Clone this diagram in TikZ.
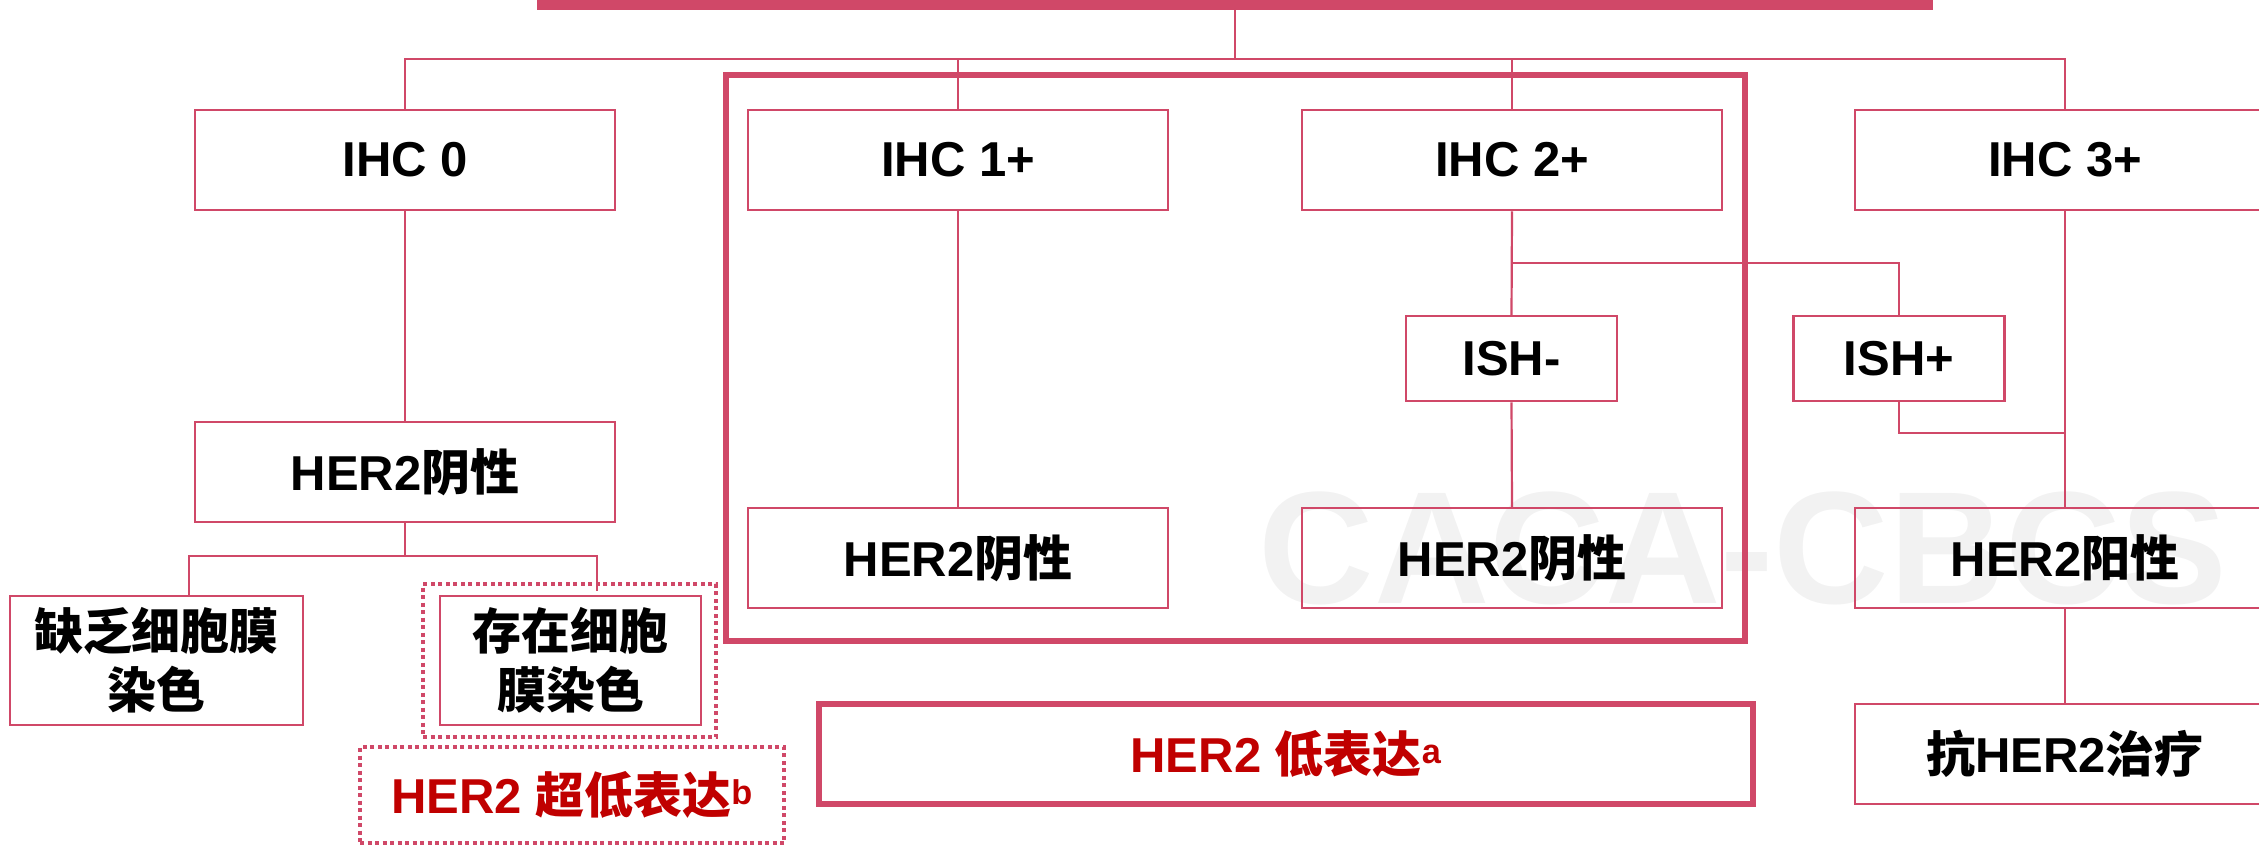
\documentclass[tikz,border=0pt]{standalone}
\usepackage{fontspec}
\setmainfont{Liberation Sans}
\newfontfamily\cjk{Noto Sans CJK SC}
\definecolor{pinkc}{RGB}{208,72,104}
\definecolor{redt}{RGB}{192,0,0}
\definecolor{wmgray}{RGB}{242,242,242}
\newcommand{\zhtxt}[1]{{\cjk\bfseries #1}}
\begin{document}
\begin{tikzpicture}[x=1pt,y=-1pt,
  box/.style={draw=pinkc,line width=2.5pt,inner sep=0pt,align=center,
    font=\fontsize{49}{59}\selectfont\bfseries,text=black,
    minimum width=420pt,minimum height=100pt},
  ishbox/.style={box,minimum width=211pt,minimum height=85pt},
  conn/.style={draw=pinkc,line width=2.2pt},
  thickbox/.style={draw=pinkc,line width=5.5pt,inner sep=0pt},
  dotbox/.style={draw=pinkc,line width=4pt,dash pattern=on 4pt off 3.5pt,inner sep=0pt},
  redlabel/.style={text=redt,font=\fontsize{49}{59}\selectfont\bfseries,inner sep=0pt}]
\clip (0,0) rectangle (2259,846);
\useasboundingbox (0,0) rectangle (2259,846);

% watermark
\node[text=wmgray,font=\fontsize{160}{160}\selectfont\bfseries] (wm) at (1743,548) {CACA-CBCS};

% top bar
\node[fill=pinkc,draw=none,inner sep=0pt,minimum width=1396pt,minimum height=14pt] (topbar) at (1235,3) {};

% group frames
\node[thickbox,minimum width=1019pt,minimum height=566pt] (grp) at (1235.5,358) {};
\node[thickbox,minimum width=934pt,minimum height=100pt,redlabel] (low) at (1286,754)
  {HER2 \zhtxt{低表达}\textsuperscript{a}};
\node[dotbox,minimum width=293pt,minimum height=153pt] (dotin) at (569.5,660.5) {};
\node[dotbox,minimum width=424pt,minimum height=96pt,redlabel] (ultra) at (572,795)
  {HER2 \zhtxt{超低表达}\textsuperscript{b}};

% IHC row
\node[box] (ihc0) at (405,160) {IHC 0};
\node[box] (ihc1) at (958,160) {IHC 1+};
\node[box] (ihc2) at (1512,160) {IHC 2+};
\node[box] (ihc3) at (2065,160) {IHC 3+};

% ISH row
\node[ishbox] (ishm) at (1511.5,358.5) {ISH-};
\node[ishbox] (ishp) at (1899,358.5) {ISH+};

% result row
\node[box] (neg0) at (405,472) {HER2\zhtxt{阴性}};
\node[box] (neg1) at (958,558) {HER2\zhtxt{阴性}};
\node[box] (neg2) at (1512,558) {HER2\zhtxt{阴性}};
\node[box] (pos) at (2065,558) {HER2\zhtxt{阳性}};

% membrane staining
\node[box,minimum width=293pt,minimum height=129pt] (lack) at (156.5,660.5) {\zhtxt{缺乏细胞膜}\\\zhtxt{染色}};
\node[box,minimum width=261pt,minimum height=129pt] (pres) at (570.5,660.5) {\zhtxt{存在细胞}\\\zhtxt{膜染色}};

% therapy
\node[box] (anti) at (2065,754) {\zhtxt{抗}HER2\zhtxt{治疗}};

% connectors
\coordinate (hub) at (1235,59);
\draw[conn] (topbar.south) -- (hub);
\draw[conn] (ihc0.north) |- (hub) -| (ihc3.north);
\draw[conn] (ihc1.north) -- (ihc1.north |- hub);
\draw[conn] (ihc2.north) -- (ihc2.north |- hub);

\draw[conn] (ihc0.south) -- (neg0.north);
\coordinate (b0) at (405,556);
\coordinate (dl) at (189,595);
\coordinate (dr) at (597,591);
\draw[conn] (neg0.south) -- (b0);
\draw[conn] (dl) |- (b0) -| (dr);

\draw[conn] (ihc1.south) -- (neg1.north);

\coordinate (b2) at (1512,263);
\draw[conn] (ihc2.south) -- (ishm.north);
\draw[conn] (b2) -| (ishp.north);
\draw[conn] (ishm.south) -- (neg2.north);

\coordinate (b3) at (2065,433);
\draw[conn] (ishp.south) |- (b3);
\draw[conn] (ihc3.south) -- (pos.north);
\draw[conn] (pos.south) -- (anti.north);
\end{tikzpicture}
\end{document}
